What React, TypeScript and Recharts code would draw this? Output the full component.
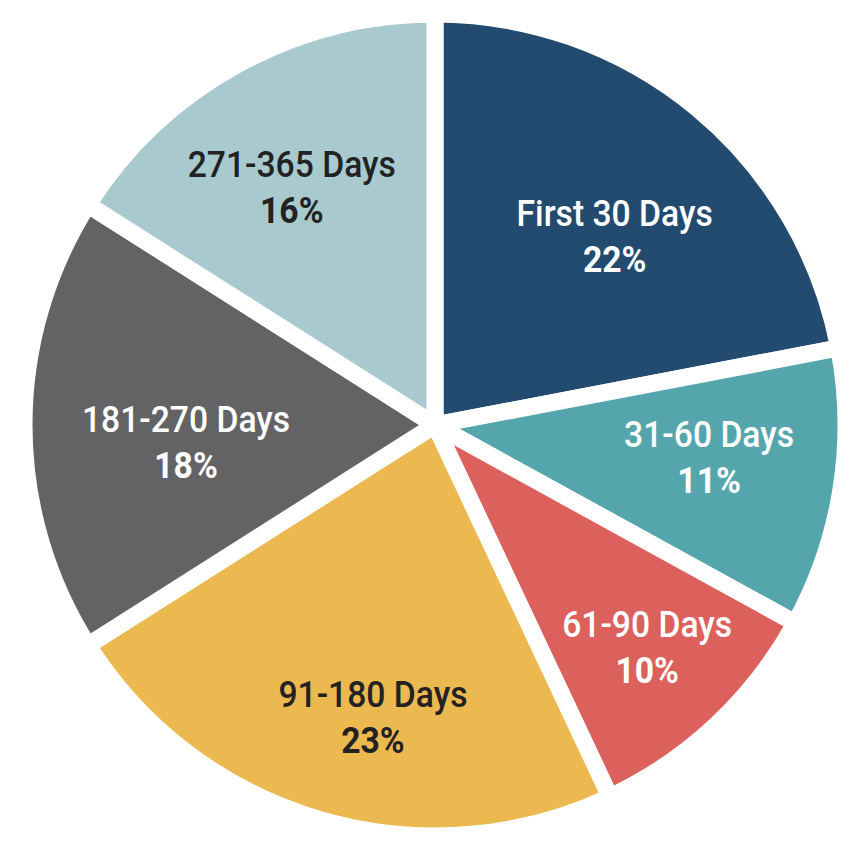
import { PieChart, Pie, Cell } from 'recharts';

const categories = ['First 30 Days', '31-60 Days', '61-90 Days', '91-180 Days', '181-270 Days', '271-365 Days'];
const shares = [22, 11, 10, 23, 18, 16];

const sliceColors = ['#234B6F', '#55A5AC', '#DC605C', '#ECB951', '#636264', '#A8CACF'];
const textColors = ['#FFFFFF', '#FFFFFF', '#FFFFFF', '#222222', '#FFFFFF', '#222222'];
// label placement inside each slice: share of radius, and a small turn off the mid angle (deg, +ccw)
const labelReach = [0.652, 0.669, 0.73, 0.703, 0.606, 0.697];
const labelTurn = [-2.5, 4.4, 1.8, 3.8, 1.6, 1.2];

const data = categories.map((name, i) => ({ name, value: shares[i] }));

const RAD = Math.PI / 180;

function SliceLabel(props: any) {
  const { cx, cy, midAngle, outerRadius, index } = props;
  const r = outerRadius * labelReach[index];
  const a = midAngle + labelTurn[index];
  const x = cx + r * Math.cos(-a * RAD);
  const y = cy + 10 + r * Math.sin(-a * RAD);
  return (
    <g transform={`translate(${x},${y}) scale(0.91,1)`}>
      <text
        x={0}
        y={0}
        textAnchor="middle"
        fill={textColors[index]}
        fontFamily="Roboto, sans-serif"
        fontSize={37}
        fontWeight={500}
      >
        <tspan x={0} dy={-10}>{categories[index]}</tspan>
        <tspan x={0} dy={46} fontWeight={700}>{`${shares[index]}%`}</tspan>
      </text>
    </g>
  );
}

export default function App() {
  return (
    <PieChart width={856} height={841} margin={{ top: 0, right: 0, bottom: 0, left: 0 }}>
      <Pie
        data={data}
        dataKey="value"
        nameKey="name"
        cx={427}
        cy={417}
        outerRadius={411}
        startAngle={90}
        endAngle={-270}
        stroke="#FFFFFF"
        strokeWidth={17}
        label={SliceLabel}
        labelLine={false}
        isAnimationActive={false}
      >
        {data.map((d, i) => (
          <Cell key={d.name} fill={sliceColors[i]} />
        ))}
      </Pie>
    </PieChart>
  );
}
